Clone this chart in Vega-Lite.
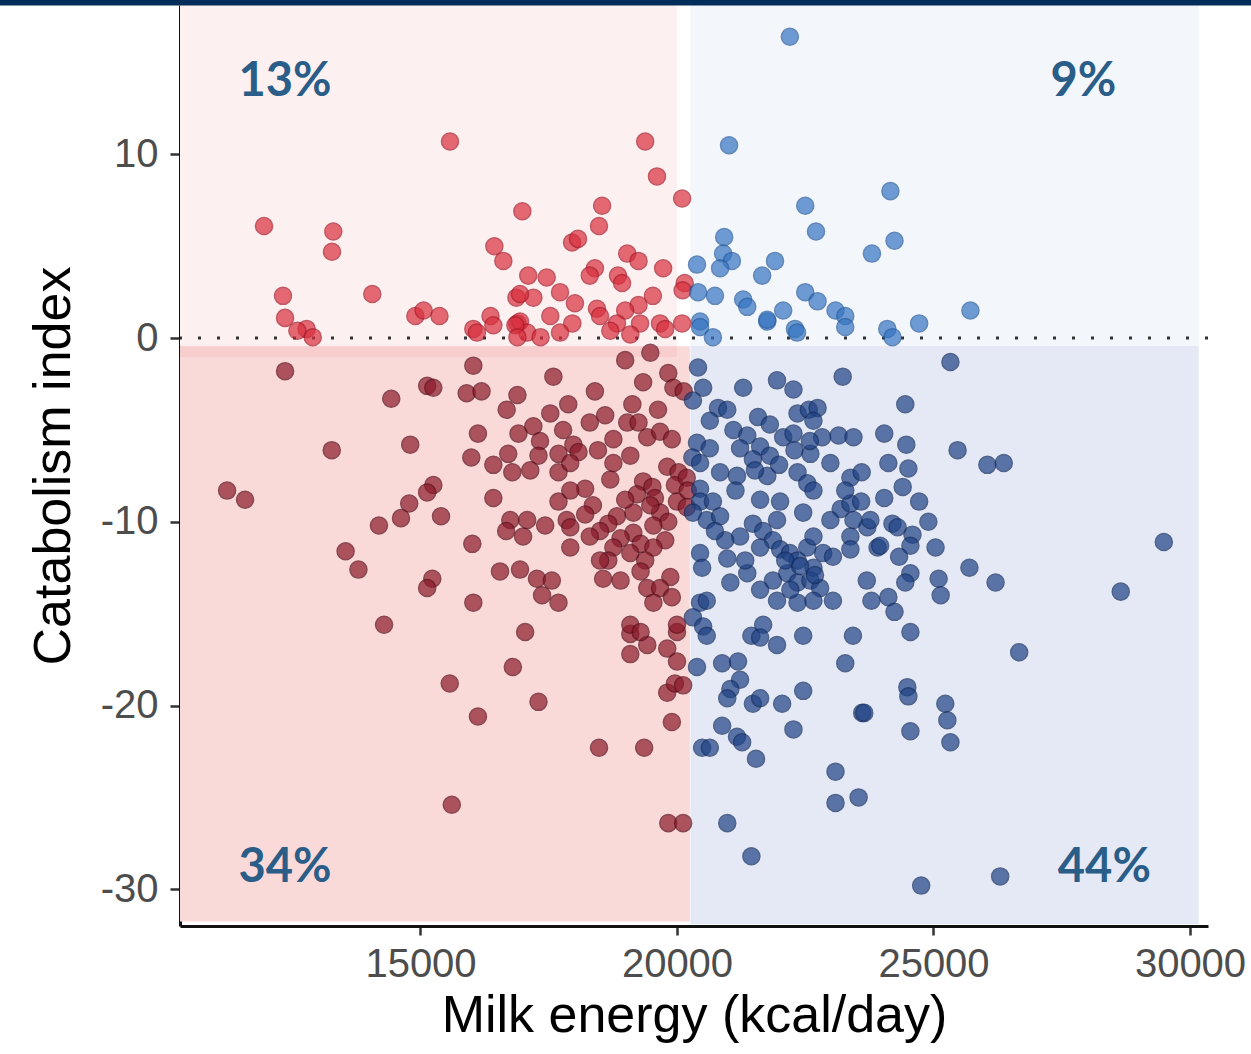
{
  "$schema": "https://vega.github.io/schema/vega-lite/v6.json",
  "autosize": {"type": "none"},
  "padding": {"left": 180, "top": 5, "right": 43, "bottom": 128},
  "width": 1028,
  "height": 921,
  "background": "white",
  "config": {"view": {"stroke": null}},
  "datasets": {
    "regions": [
      {"region": "BL", "x1": 10312, "x2": 20250, "y1": -31.75, "y2": -0.44},
      {"region": "TL", "x1": 10312, "x2": 20000, "y1": -0.44, "y2": 18.13},
      {"region": "STRIP", "x1": 10312, "x2": 20000, "y1": -1.03, "y2": -0.44},
      {"region": "BR", "x1": 20262, "x2": 30170, "y1": -31.9, "y2": -0.4},
      {"region": "TR", "x1": 20262, "x2": 30170, "y1": -0.4, "y2": 18.13}
    ],
    "labels": [
      {"x": 12357, "y": 13.94, "label": "13%"},
      {"x": 27922, "y": 13.94, "label": "9%"},
      {"x": 12357, "y": -28.85, "label": "34%"},
      {"x": 28331, "y": -28.85, "label": "44%"}
    ],
    "pts": [
      {"x":15575,"y":10.7,"q":"TL"},{"x":11950,"y":6.1,"q":"TL"},{"x":13300,"y":5.8,"q":"TL"},{"x":13275,"y":4.7,"q":"TL"},
      {"x":16985,"y":6.9,"q":"TL"},{"x":16440,"y":5.0,"q":"TL"},{"x":16615,"y":4.2,"q":"TL"},{"x":17100,"y":3.4,"q":"TL"},
      {"x":12320,"y":2.3,"q":"TL"},{"x":12360,"y":1.1,"q":"TL"},{"x":14060,"y":2.4,"q":"TL"},{"x":14900,"y":1.2,"q":"TL"},
      {"x":15060,"y":1.5,"q":"TL"},{"x":15370,"y":1.2,"q":"TL"},{"x":16365,"y":1.2,"q":"TL"},{"x":16870,"y":2.2,"q":"TL"},
      {"x":16890,"y":0.8,"q":"TL"},{"x":16030,"y":0.5,"q":"TL"},{"x":12780,"y":0.5,"q":"TL"},{"x":12900,"y":0.05,"q":"TL"},
      {"x":19380,"y":10.7,"q":"TL"},{"x":19610,"y":8.8,"q":"TL"},{"x":20100,"y":7.6,"q":"TL"},{"x":18540,"y":7.2,"q":"TL"},
      {"x":18480,"y":6.1,"q":"TL"},{"x":17955,"y":5.2,"q":"TL"},{"x":18070,"y":5.4,"q":"TL"},{"x":19030,"y":4.6,"q":"TL"},
      {"x":19250,"y":4.2,"q":"TL"},{"x":19730,"y":3.8,"q":"TL"},{"x":18400,"y":3.8,"q":"TL"},{"x":18300,"y":3.4,"q":"TL"},
      {"x":18850,"y":3.4,"q":"TL"},{"x":18930,"y":3.0,"q":"TL"},{"x":17460,"y":3.3,"q":"TL"},{"x":17720,"y":2.5,"q":"TL"},
      {"x":17200,"y":2.2,"q":"TL"},{"x":16940,"y":2.4,"q":"TL"},{"x":18010,"y":1.9,"q":"TL"},{"x":18440,"y":1.6,"q":"TL"},
      {"x":19530,"y":2.3,"q":"TL"},{"x":19250,"y":1.8,"q":"TL"},{"x":18990,"y":1.5,"q":"TL"},{"x":20150,"y":3.0,"q":"TL"},
      {"x":20110,"y":2.6,"q":"TL"},{"x":17530,"y":1.2,"q":"TL"},{"x":17960,"y":0.8,"q":"TL"},{"x":18500,"y":1.2,"q":"TL"},
      {"x":18830,"y":0.8,"q":"TL"},{"x":19280,"y":0.8,"q":"TL"},{"x":19670,"y":0.8,"q":"TL"},{"x":20100,"y":0.8,"q":"TL"},
      {"x":16940,"y":0.9,"q":"TL"},{"x":17080,"y":0.3,"q":"TL"},{"x":17340,"y":0.05,"q":"TL"},{"x":17720,"y":0.3,"q":"TL"},
      {"x":18700,"y":0.4,"q":"TL"},{"x":19090,"y":0.2,"q":"TL"},{"x":19770,"y":0.5,"q":"TL"},{"x":16100,"y":0.3,"q":"TL"},
      {"x":16420,"y":0.7,"q":"TL"},{"x":16850,"y":0.7,"q":"TL"},{"x":16890,"y":0.05,"q":"TL"},{"x":12600,"y":0.4,"q":"TL"},

      {"x":22200,"y":16.4,"q":"TR"},{"x":21015,"y":10.5,"q":"TR"},{"x":22500,"y":7.2,"q":"TR"},{"x":22710,"y":5.8,"q":"TR"},
      {"x":20920,"y":5.5,"q":"TR"},{"x":20900,"y":4.6,"q":"TR"},{"x":21070,"y":4.2,"q":"TR"},{"x":20840,"y":3.8,"q":"TR"},
      {"x":21910,"y":4.2,"q":"TR"},{"x":21660,"y":3.4,"q":"TR"},{"x":20390,"y":4.0,"q":"TR"},{"x":20410,"y":2.5,"q":"TR"},
      {"x":20740,"y":2.3,"q":"TR"},{"x":21290,"y":2.1,"q":"TR"},{"x":21370,"y":1.7,"q":"TR"},{"x":22500,"y":2.5,"q":"TR"},
      {"x":22740,"y":2.0,"q":"TR"},{"x":23090,"y":1.5,"q":"TR"},{"x":23280,"y":1.2,"q":"TR"},{"x":22070,"y":1.5,"q":"TR"},
      {"x":23800,"y":4.6,"q":"TR"},{"x":20450,"y":0.9,"q":"TR"},{"x":21760,"y":0.9,"q":"TR"},{"x":22300,"y":0.5,"q":"TR"},
      {"x":24160,"y":8.0,"q":"TR"},{"x":24240,"y":5.3,"q":"TR"},{"x":25720,"y":1.5,"q":"TR"},{"x":24720,"y":0.8,"q":"TR"},
      {"x":24100,"y":0.5,"q":"TR"},{"x":20450,"y":0.6,"q":"TR"},{"x":20700,"y":0.05,"q":"TR"},{"x":22340,"y":0.3,"q":"TR"},
      {"x":23280,"y":0.6,"q":"TR"},{"x":24200,"y":0.05,"q":"TR"},{"x":21760,"y":1.0,"q":"TR"},

      {"x":12360,"y":-1.8,"q":"BL"},{"x":14430,"y":-3.3,"q":"BL"},{"x":15130,"y":-2.6,"q":"BL"},{"x":15250,"y":-2.7,"q":"BL"},
      {"x":16030,"y":-1.5,"q":"BL"},{"x":15900,"y":-3.0,"q":"BL"},{"x":16190,"y":-2.9,"q":"BL"},{"x":16890,"y":-3.1,"q":"BL"},
      {"x":16680,"y":-3.9,"q":"BL"},{"x":14800,"y":-5.8,"q":"BL"},{"x":13270,"y":-6.1,"q":"BL"},{"x":16120,"y":-5.2,"q":"BL"},
      {"x":16910,"y":-5.2,"q":"BL"},{"x":15990,"y":-6.5,"q":"BL"},{"x":16420,"y":-6.9,"q":"BL"},{"x":16710,"y":-6.3,"q":"BL"},
      {"x":16790,"y":-7.3,"q":"BL"},{"x":11230,"y":-8.3,"q":"BL"},{"x":11580,"y":-8.8,"q":"BL"},{"x":15250,"y":-8.0,"q":"BL"},
      {"x":15130,"y":-8.4,"q":"BL"},{"x":14780,"y":-9.0,"q":"BL"},{"x":14620,"y":-9.8,"q":"BL"},{"x":14190,"y":-10.2,"q":"BL"},
      {"x":15400,"y":-9.7,"q":"BL"},{"x":16420,"y":-8.7,"q":"BL"},{"x":16010,"y":-11.2,"q":"BL"},{"x":16750,"y":-9.9,"q":"BL"},
      {"x":17080,"y":-9.9,"q":"BL"},{"x":16670,"y":-10.5,"q":"BL"},{"x":17000,"y":-10.8,"q":"BL"},{"x":13540,"y":-11.6,"q":"BL"},
      {"x":13790,"y":-12.6,"q":"BL"},{"x":15230,"y":-13.1,"q":"BL"},{"x":15130,"y":-13.6,"q":"BL"},{"x":16030,"y":-14.4,"q":"BL"},
      {"x":16550,"y":-12.7,"q":"BL"},{"x":16940,"y":-12.6,"q":"BL"},{"x":14290,"y":-15.6,"q":"BL"},{"x":17040,"y":-16.0,"q":"BL"},
      {"x":16800,"y":-17.9,"q":"BL"},{"x":15570,"y":-18.8,"q":"BL"},{"x":16120,"y":-20.6,"q":"BL"},{"x":15610,"y":-25.4,"q":"BL"},
      {"x":17300,"y":-19.8,"q":"BL"},{"x":18480,"y":-22.3,"q":"BL"},{"x":19360,"y":-22.3,"q":"BL"},{"x":19090,"y":-17.2,"q":"BL"},
      {"x":19420,"y":-16.7,"q":"BL"},{"x":19810,"y":-16.9,"q":"BL"},{"x":20000,"y":-17.6,"q":"BL"},{"x":19810,"y":-19.3,"q":"BL"},
      {"x":19960,"y":-18.8,"q":"BL"},{"x":20120,"y":-18.9,"q":"BL"},{"x":19900,"y":-20.9,"q":"BL"},{"x":19830,"y":-26.4,"q":"BL"},
      {"x":20120,"y":-26.4,"q":"BL"},{"x":19090,"y":-16.1,"q":"BL"},{"x":20000,"y":-16.0,"q":"BL"},
      {"x":18990,"y":-1.2,"q":"BL"},{"x":19480,"y":-0.8,"q":"BL"},{"x":17590,"y":-2.1,"q":"BL"},{"x":19340,"y":-2.4,"q":"BL"},
      {"x":19830,"y":-1.9,"q":"BL"},{"x":19930,"y":-2.7,"q":"BL"},{"x":20130,"y":-2.9,"q":"BL"},{"x":18400,"y":-2.9,"q":"BL"},
      {"x":17530,"y":-4.1,"q":"BL"},{"x":17880,"y":-3.6,"q":"BL"},{"x":19130,"y":-3.6,"q":"BL"},{"x":19630,"y":-3.9,"q":"BL"},
      {"x":18600,"y":-4.2,"q":"BL"},{"x":18300,"y":-4.6,"q":"BL"},{"x":19030,"y":-4.6,"q":"BL"},{"x":19250,"y":-4.6,"q":"BL"},
      {"x":17200,"y":-4.8,"q":"BL"},{"x":17780,"y":-5.0,"q":"BL"},{"x":19420,"y":-5.4,"q":"BL"},{"x":19670,"y":-5.1,"q":"BL"},
      {"x":19900,"y":-5.5,"q":"BL"},{"x":18760,"y":-5.5,"q":"BL"},{"x":17330,"y":-5.6,"q":"BL"},{"x":17980,"y":-5.8,"q":"BL"},
      {"x":18080,"y":-6.2,"q":"BL"},{"x":17690,"y":-6.3,"q":"BL"},{"x":18460,"y":-6.1,"q":"BL"},{"x":17300,"y":-6.4,"q":"BL"},
      {"x":17140,"y":-7.2,"q":"BL"},{"x":17690,"y":-7.3,"q":"BL"},{"x":17920,"y":-6.8,"q":"BL"},{"x":18760,"y":-6.8,"q":"BL"},
      {"x":19810,"y":-7.0,"q":"BL"},{"x":20030,"y":-7.3,"q":"BL"},{"x":19960,"y":-8.0,"q":"BL"},{"x":19340,"y":-7.8,"q":"BL"},
      {"x":19520,"y":-8.1,"q":"BL"},{"x":19220,"y":-8.5,"q":"BL"},{"x":19570,"y":-8.7,"q":"BL"},{"x":18210,"y":-8.2,"q":"BL"},
      {"x":18360,"y":-9.1,"q":"BL"},{"x":17690,"y":-8.9,"q":"BL"},{"x":20000,"y":-8.9,"q":"BL"},{"x":17430,"y":-10.2,"q":"BL"},
      {"x":17850,"y":-9.9,"q":"BL"},{"x":17920,"y":-10.3,"q":"BL"},{"x":18830,"y":-9.7,"q":"BL"},{"x":19150,"y":-9.5,"q":"BL"},
      {"x":19670,"y":-9.5,"q":"BL"},{"x":19830,"y":-10.0,"q":"BL"},{"x":19540,"y":-10.2,"q":"BL"},{"x":18660,"y":-10.1,"q":"BL"},
      {"x":18500,"y":-10.5,"q":"BL"},{"x":18300,"y":-10.8,"q":"BL"},{"x":17920,"y":-11.4,"q":"BL"},{"x":19150,"y":-10.6,"q":"BL"},
      {"x":18900,"y":-10.9,"q":"BL"},{"x":19290,"y":-11.2,"q":"BL"},{"x":18760,"y":-11.4,"q":"BL"},{"x":19770,"y":-11.0,"q":"BL"},
      {"x":19540,"y":-11.4,"q":"BL"},{"x":19090,"y":-11.7,"q":"BL"},{"x":18660,"y":-12.1,"q":"BL"},{"x":19380,"y":-12.1,"q":"BL"},
      {"x":18560,"y":-13.1,"q":"BL"},{"x":18900,"y":-13.2,"q":"BL"},{"x":19290,"y":-12.7,"q":"BL"},{"x":19870,"y":-13.0,"q":"BL"},
      {"x":19420,"y":-13.6,"q":"BL"},{"x":19670,"y":-13.6,"q":"BL"},{"x":19540,"y":-14.4,"q":"BL"},{"x":19900,"y":-14.1,"q":"BL"},
      {"x":17270,"y":-13.1,"q":"BL"},{"x":17560,"y":-13.2,"q":"BL"},{"x":17370,"y":-14.0,"q":"BL"},{"x":17690,"y":-14.4,"q":"BL"},
      {"x":19090,"y":-15.6,"q":"BL"},{"x":19290,"y":-16.0,"q":"BL"},{"x":20000,"y":-15.6,"q":"BL"},{"x":20190,"y":-7.6,"q":"BL"},
      {"x":20210,"y":-8.3,"q":"BL"},{"x":20190,"y":-9.2,"q":"BL"},{"x":19090,"y":-6.4,"q":"BL"},{"x":18700,"y":-7.7,"q":"BL"},
      {"x":19480,"y":-9.1,"q":"BL"},{"x":18990,"y":-8.8,"q":"BL"},{"x":18500,"y":-12.1,"q":"BL"},{"x":18210,"y":-9.6,"q":"BL"},
      {"x":17920,"y":-8.3,"q":"BL"},

      {"x":20410,"y":-1.6,"q":"BR"},{"x":20510,"y":-2.7,"q":"BR"},{"x":20310,"y":-3.4,"q":"BR"},{"x":21290,"y":-2.7,"q":"BR"},
      {"x":21950,"y":-2.3,"q":"BR"},{"x":22270,"y":-2.8,"q":"BR"},{"x":23230,"y":-2.1,"q":"BR"},{"x":20800,"y":-3.8,"q":"BR"},
      {"x":20980,"y":-3.9,"q":"BR"},{"x":20640,"y":-4.5,"q":"BR"},{"x":21580,"y":-4.3,"q":"BR"},{"x":22350,"y":-4.1,"q":"BR"},
      {"x":22570,"y":-3.9,"q":"BR"},{"x":22740,"y":-3.8,"q":"BR"},{"x":22660,"y":-4.5,"q":"BR"},{"x":21100,"y":-5.0,"q":"BR"},
      {"x":21370,"y":-5.3,"q":"BR"},{"x":22070,"y":-5.4,"q":"BR"},{"x":22270,"y":-5.2,"q":"BR"},{"x":22830,"y":-5.4,"q":"BR"},
      {"x":23150,"y":-5.3,"q":"BR"},{"x":23440,"y":-5.4,"q":"BR"},{"x":20390,"y":-5.7,"q":"BR"},{"x":20640,"y":-6.0,"q":"BR"},
      {"x":21230,"y":-6.0,"q":"BR"},{"x":21620,"y":-5.9,"q":"BR"},{"x":21810,"y":-6.4,"q":"BR"},{"x":21480,"y":-6.6,"q":"BR"},
      {"x":22600,"y":-6.3,"q":"BR"},{"x":22990,"y":-6.8,"q":"BR"},{"x":20300,"y":-6.5,"q":"BR"},{"x":20450,"y":-6.8,"q":"BR"},
      {"x":20840,"y":-7.3,"q":"BR"},{"x":21170,"y":-7.5,"q":"BR"},{"x":21760,"y":-7.5,"q":"BR"},{"x":22350,"y":-7.3,"q":"BR"},
      {"x":22540,"y":-7.9,"q":"BR"},{"x":22660,"y":-8.3,"q":"BR"},{"x":23380,"y":-7.6,"q":"BR"},{"x":23600,"y":-7.3,"q":"BR"},
      {"x":20450,"y":-8.2,"q":"BR"},{"x":20450,"y":-8.9,"q":"BR"},{"x":20700,"y":-8.9,"q":"BR"},{"x":21620,"y":-8.8,"q":"BR"},
      {"x":22010,"y":-8.9,"q":"BR"},{"x":22460,"y":-9.5,"q":"BR"},{"x":23190,"y":-9.3,"q":"BR"},{"x":23380,"y":-9.0,"q":"BR"},
      {"x":23590,"y":-8.9,"q":"BR"},{"x":23440,"y":-9.9,"q":"BR"},{"x":20310,"y":-9.5,"q":"BR"},{"x":20580,"y":-9.9,"q":"BR"},
      {"x":20840,"y":-9.7,"q":"BR"},{"x":21230,"y":-10.8,"q":"BR"},{"x":21480,"y":-10.1,"q":"BR"},{"x":21680,"y":-10.5,"q":"BR"},
      {"x":21950,"y":-9.9,"q":"BR"},{"x":21870,"y":-11.0,"q":"BR"},{"x":21620,"y":-11.4,"q":"BR"},{"x":22010,"y":-11.5,"q":"BR"},
      {"x":22200,"y":-11.7,"q":"BR"},{"x":22540,"y":-11.4,"q":"BR"},{"x":22660,"y":-10.8,"q":"BR"},{"x":22850,"y":-11.7,"q":"BR"},
      {"x":23040,"y":-11.9,"q":"BR"},{"x":22350,"y":-12.1,"q":"BR"},{"x":22660,"y":-12.5,"q":"BR"},{"x":23380,"y":-10.8,"q":"BR"},
      {"x":23380,"y":-11.5,"q":"BR"},{"x":23710,"y":-10.3,"q":"BR"},{"x":20450,"y":-11.7,"q":"BR"},{"x":20490,"y":-12.5,"q":"BR"},
      {"x":20980,"y":-12.0,"q":"BR"},{"x":21370,"y":-12.8,"q":"BR"},{"x":21040,"y":-13.3,"q":"BR"},{"x":21870,"y":-13.2,"q":"BR"},
      {"x":22150,"y":-12.8,"q":"BR"},{"x":22350,"y":-13.3,"q":"BR"},{"x":22600,"y":-13.2,"q":"BR"},{"x":22790,"y":-13.6,"q":"BR"},
      {"x":23040,"y":-14.3,"q":"BR"},{"x":21950,"y":-14.3,"q":"BR"},{"x":22350,"y":-14.4,"q":"BR"},{"x":22660,"y":-14.3,"q":"BR"},
      {"x":23700,"y":-13.2,"q":"BR"},{"x":20450,"y":-14.4,"q":"BR"},{"x":20580,"y":-14.3,"q":"BR"},{"x":20310,"y":-15.2,"q":"BR"},
      {"x":20510,"y":-15.7,"q":"BR"},{"x":21450,"y":-16.2,"q":"BR"},{"x":21680,"y":-15.6,"q":"BR"},{"x":22460,"y":-16.2,"q":"BR"},
      {"x":23430,"y":-16.2,"q":"BR"},{"x":20580,"y":-16.2,"q":"BR"},{"x":21620,"y":-16.3,"q":"BR"},{"x":21950,"y":-16.7,"q":"BR"},
      {"x":20390,"y":-17.9,"q":"BR"},{"x":20880,"y":-17.7,"q":"BR"},{"x":21190,"y":-17.6,"q":"BR"},{"x":21230,"y":-18.6,"q":"BR"},
      {"x":21040,"y":-19.1,"q":"BR"},{"x":20980,"y":-19.6,"q":"BR"},{"x":21480,"y":-19.9,"q":"BR"},{"x":21620,"y":-19.6,"q":"BR"},
      {"x":22050,"y":-19.9,"q":"BR"},{"x":22460,"y":-19.2,"q":"BR"},{"x":23280,"y":-17.7,"q":"BR"},{"x":23610,"y":-20.4,"q":"BR"},
      {"x":20880,"y":-21.1,"q":"BR"},{"x":21170,"y":-21.7,"q":"BR"},{"x":21270,"y":-22.0,"q":"BR"},{"x":22270,"y":-21.3,"q":"BR"},
      {"x":20490,"y":-22.3,"q":"BR"},{"x":20640,"y":-22.3,"q":"BR"},{"x":21540,"y":-22.9,"q":"BR"},{"x":23090,"y":-23.6,"q":"BR"},
      {"x":23090,"y":-25.3,"q":"BR"},{"x":23540,"y":-25.0,"q":"BR"},{"x":20980,"y":-26.4,"q":"BR"},{"x":21450,"y":-28.2,"q":"BR"},
      {"x":25330,"y":-1.3,"q":"BR"},{"x":24450,"y":-3.6,"q":"BR"},{"x":24040,"y":-5.2,"q":"BR"},{"x":24470,"y":-5.8,"q":"BR"},
      {"x":25470,"y":-6.1,"q":"BR"},{"x":26050,"y":-6.9,"q":"BR"},{"x":26370,"y":-6.8,"q":"BR"},{"x":24120,"y":-6.8,"q":"BR"},
      {"x":24510,"y":-7.1,"q":"BR"},{"x":24400,"y":-8.1,"q":"BR"},{"x":24040,"y":-8.7,"q":"BR"},{"x":24720,"y":-8.9,"q":"BR"},
      {"x":24900,"y":-10.0,"q":"BR"},{"x":24200,"y":-10.1,"q":"BR"},{"x":24300,"y":-10.3,"q":"BR"},{"x":24590,"y":-10.7,"q":"BR"},
      {"x":24550,"y":-11.3,"q":"BR"},{"x":25040,"y":-11.4,"q":"BR"},{"x":23910,"y":-11.4,"q":"BR"},{"x":24330,"y":-11.9,"q":"BR"},
      {"x":25700,"y":-12.5,"q":"BR"},{"x":26210,"y":-13.3,"q":"BR"},{"x":28650,"y":-13.8,"q":"BR"},{"x":29490,"y":-11.1,"q":"BR"},
      {"x":24550,"y":-12.8,"q":"BR"},{"x":24450,"y":-13.3,"q":"BR"},{"x":25100,"y":-13.1,"q":"BR"},{"x":25140,"y":-14.0,"q":"BR"},
      {"x":23790,"y":-14.3,"q":"BR"},{"x":24120,"y":-14.1,"q":"BR"},{"x":24240,"y":-14.9,"q":"BR"},{"x":24550,"y":-16.0,"q":"BR"},
      {"x":26670,"y":-17.1,"q":"BR"},{"x":24490,"y":-19.0,"q":"BR"},{"x":24510,"y":-19.5,"q":"BR"},{"x":23650,"y":-20.4,"q":"BR"},
      {"x":25230,"y":-19.9,"q":"BR"},{"x":25270,"y":-20.8,"q":"BR"},{"x":24550,"y":-21.4,"q":"BR"},{"x":25330,"y":-22.0,"q":"BR"},
      {"x":24760,"y":-29.8,"q":"BR"},{"x":26300,"y":-29.3,"q":"BR"},
      {"x":22110,"y":-12.1,"q":"BR"},{"x":22400,"y":-12.4,"q":"BR"},{"x":22690,"y":-12.9,"q":"BR"},{"x":22210,"y":-13.7,"q":"BR"},
      {"x":21620,"y":-13.7,"q":"BR"},{"x":21330,"y":-12.1,"q":"BR"},{"x":20940,"y":-11.0,"q":"BR"},{"x":20740,"y":-10.5,"q":"BR"},
      {"x":21140,"y":-8.3,"q":"BR"},{"x":21520,"y":-7.2,"q":"BR"},{"x":21990,"y":-6.9,"q":"BR"},{"x":22290,"y":-6.1,"q":"BR"},
      {"x":21810,"y":-4.7,"q":"BR"},{"x":22590,"y":-5.6,"q":"BR"},{"x":23280,"y":-8.3,"q":"BR"},{"x":22990,"y":-9.9,"q":"BR"},
      {"x":23770,"y":-9.9,"q":"BR"},{"x":23960,"y":-11.3,"q":"BR"}
    ]
  },
  "layer": [
    {
      "data": {"name": "regions"},
      "mark": {"type": "rect"},
      "encoding": {
        "x": {"field": "x1", "type": "quantitative", "scale": {"domain": [10312, 30351], "nice": false, "zero": false},
              "axis": {"title": "Milk energy (kcal/day)", "values": [15000, 20000, 25000, 30000], "format": "d", "grid": false,
                       "labelFont": "Liberation Sans", "labelFontSize": 40, "labelColor": "#4d4d4d", "labelPadding": 9,
                       "tickColor": "#333333", "tickSize": 9, "tickWidth": 2.5, "domainColor": "#111111", "domainWidth": 3,
                       "titleFont": "Liberation Sans", "titleFontSize": 52, "titleFontWeight": "normal", "titleColor": "#000000", "titlePadding": 6}},
        "x2": {"field": "x2"},
        "y": {"field": "y1", "type": "quantitative", "scale": {"domain": [-32.0, 18.13], "nice": false, "zero": false},
              "axis": {"title": "Catabolism index", "values": [-30, -20, -10, 0, 10], "labelExpr": "'' + datum.value", "grid": false,
                       "labelFont": "Liberation Sans", "labelFontSize": 40, "labelColor": "#4d4d4d", "labelPadding": 12,
                       "tickColor": "#333333", "tickSize": 10, "tickWidth": 2.5, "domainColor": "#111111", "domainWidth": 3,
                       "titleFont": "Liberation Sans", "titleFontSize": 52, "titleFontWeight": "normal", "titleColor": "#000000", "titlePadding": 20}},
        "y2": {"field": "y2"},
        "fill": {"field": "region", "type": "nominal", "legend": null,
                 "scale": {"domain": ["BL", "TL", "STRIP", "BR", "TR"], "range": ["#fad9d9", "#fdf0f0", "#f8cdcd", "#e4e9f5", "#f3f6fb"]}}
      }
    },
    {
      "data": {"values": [{}]},
      "mark": {"type": "rule", "color": "#333333", "strokeWidth": 3, "strokeDash": [3, 16]},
      "encoding": {"y": {"datum": 0, "type": "quantitative"}}
    },
    {
      "data": {"values": [{}]},
      "mark": {"type": "rule", "color": "#002d5a", "strokeWidth": 6, "clip": false},
      "encoding": {
        "x": {"datum": 6800, "type": "quantitative"},
        "x2": {"datum": 31250},
        "y": {"datum": 18.27, "type": "quantitative"}
      }
    },
    {
      "data": {"name": "pts"},
      "mark": {"type": "point", "filled": true, "size": 290, "opacity": 0.7, "strokeWidth": 1.5},
      "encoding": {
        "x": {"field": "x", "type": "quantitative"},
        "y": {"field": "y", "type": "quantitative"},
        "color": {"field": "q", "type": "nominal", "legend": null,
                  "scale": {"domain": ["TL", "TR", "BL", "BR"], "range": ["#d92f3d", "#3574c1", "#8b1a2a", "#1f4285"]}},
        "stroke": {"field": "q", "type": "nominal", "legend": null,
                   "scale": {"domain": ["TL", "TR", "BL", "BR"], "range": ["#a81828", "#245a9e", "#5a0c18", "#122c60"]}}
      }
    },
    {
      "data": {"name": "labels"},
      "mark": {"type": "text", "font": "Lato", "fontWeight": "bold", "fontSize": 47, "color": "#2a5d88", "align": "center", "baseline": "middle"},
      "encoding": {
        "x": {"field": "x", "type": "quantitative"},
        "y": {"field": "y", "type": "quantitative"},
        "text": {"field": "label"}
      }
    }
  ]
}
